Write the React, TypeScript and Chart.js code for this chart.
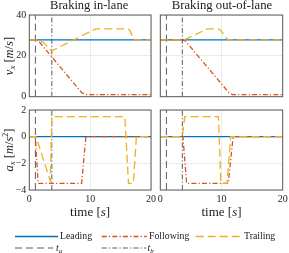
import React, { useEffect, useRef } from "react";
import { Chart, registerables } from "chart.js";
Chart.register(...registerables);

// ---------- data ----------
const timeTicks = [0, 10, 20];
const velTicks = [0, 20, 40];
const accTicks = [-4, -2, 0, 2];

// event times
const inLaneMarkers = [1.0, 3.7]; // t_a, t_b
const outLaneMarkers = [1.0, 3.6];

// Braking in-lane : velocity v_x [m/s]
const inLeadT = [0, 20];
const inLeadV = [27.8, 27.8];
const inFollowT = [0, 1.0, 1.5, 8.6, 9.3, 20];
const inFollowV = [27.8, 27.8, 27.3, 2.0, 1.0, 1.0];
const inTrailT = [0, 1.1, 2.3, 3.6, 3.8, 10.9, 16.2, 16.5, 17.1, 17.6, 20];
const inTrailV = [27.8, 27.8, 26.6, 22.6, 22.6, 33.2, 33.2, 32.7, 28.3, 27.8, 27.8];

// Braking out-of-lane : velocity v_x [m/s]
const outLeadT = [0, 20];
const outLeadV = [27.8, 27.8];
const outFollowT = [0, 3.6, 4.1, 11.2, 11.8, 20];
const outFollowV = [27.8, 27.8, 27.3, 2.0, 1.0, 1.0];
const outTrailT = [0, 3.6, 4.0, 7.7, 9.5, 9.8, 10.9, 11.2, 20];
const outTrailV = [27.8, 27.8, 28.0, 33.2, 33.2, 32.7, 28.3, 27.8, 27.8];

// Braking in-lane : acceleration a_x [m/s^2]
const inLeadA = [0, 0];
const inFollowAT = [0, 1.0, 1.45, 8.6, 9.3, 20];
const inFollowA = [0, 0, -3.5, -3.5, 0, 0];
const inTrailAT = [0, 1.1, 3.45, 3.7, 15.7, 16.3, 17.1, 17.6, 20];
const inTrailA = [0, 0, -3.3, 1.5, 1.5, -3.5, -3.5, 0, 0];

// Braking out-of-lane : acceleration a_x [m/s^2]
const outLeadA = [0, 0];
const outFollowAT = [0, 3.7, 4.3, 11.1, 11.9, 20];
const outFollowA = [0, 0, -3.5, -3.5, 0, 0];
const outTrailAT = [0, 3.6, 4.0, 9.5, 9.9, 10.9, 11.5, 20];
const outTrailA = [0, 0, 1.5, 1.5, -3.5, -3.5, 0, 0];

const panelTitles = ["Braking in-lane", "Braking out-of-lane"];
const legendNames = ["Leading", "Following", "Trailing"];

// ---------- styles ----------
const W = 289;
const H = 253;
const SERIF = "'Liberation Serif', 'Times New Roman', serif";
const C_LEAD = "#0072BD";
const C_FOLLOW = "#D95319";
const C_TRAIL = "#EDB120";
const C_MARK = "#4a4a4a";
const DASH_FOLLOW = [5, 2.2, 1.2, 2.2];
const DASH_TRAIL = [8, 4];
const DASH_TA = [7, 4];
const DASH_TB = [5, 2.2, 1.2, 2.2];

const pts = (t: number[], v: number[]) => t.map((x, i) => ({ x, y: v[i] }));

type Panel = {
  left: number;
  right: number;
  top: number;
  bottom: number;
  yTicks: number[];
  showX: boolean;
  showY: boolean;
  lead: { x: number; y: number }[];
  follow: { x: number; y: number }[];
  trail: { x: number; y: number }[];
  markers: number[];
};

const LX = [29.3, 151];
const RX = [160.3, 282.7];
const TY = [15, 96.7];
const BY = [110, 190];

const panels: Panel[] = [
  {
    left: LX[0], right: LX[1], top: TY[0], bottom: TY[1], yTicks: velTicks, showX: false, showY: true,
    lead: pts(inLeadT, inLeadV), follow: pts(inFollowT, inFollowV), trail: pts(inTrailT, inTrailV),
    markers: inLaneMarkers,
  },
  {
    left: RX[0], right: RX[1], top: TY[0], bottom: TY[1], yTicks: velTicks, showX: false, showY: false,
    lead: pts(outLeadT, outLeadV), follow: pts(outFollowT, outFollowV), trail: pts(outTrailT, outTrailV),
    markers: outLaneMarkers,
  },
  {
    left: LX[0], right: LX[1], top: BY[0], bottom: BY[1], yTicks: accTicks, showX: true, showY: true,
    lead: pts(inLeadT, inLeadA), follow: pts(inFollowAT, inFollowA), trail: pts(inTrailAT, inTrailA),
    markers: inLaneMarkers,
  },
  {
    left: RX[0], right: RX[1], top: BY[0], bottom: BY[1], yTicks: accTicks, showX: true, showY: false,
    lead: pts(outLeadT, outLeadA), follow: pts(outFollowAT, outFollowA), trail: pts(outTrailAT, outTrailA),
    markers: outLaneMarkers,
  },
];

const boxPlugin = {
  id: "axesBox",
  afterDraw(chart: any) {
    const { ctx, chartArea } = chart;
    const { left, top, right, bottom } = chartArea;
    ctx.save();
    ctx.strokeStyle = "#5a5a5a";
    ctx.lineWidth = 1;
    ctx.strokeRect(left, top, right - left, bottom - top);
    ctx.restore();
  },
};

function PanelChart({ p }: { p: Panel }) {
  const ref = useRef<HTMLCanvasElement>(null);
  useEffect(() => {
    const yMin = p.yTicks[0];
    const yMax = p.yTicks[p.yTicks.length - 1];
    const XH = p.showX ? 20 : 0;
    const line = (data: any, color: string, dash: number[], order: number, width = 1.3) => ({
      data,
      borderColor: color,
      backgroundColor: color,
      borderWidth: width,
      borderDash: dash,
      pointRadius: 0,
      tension: 0,
      fill: false,
      order,
    });
    const chart = new Chart(ref.current as HTMLCanvasElement, {
      type: "line",
      data: {
        datasets: [
          line(p.trail, C_TRAIL, DASH_TRAIL, 0),
          line(p.follow, C_FOLLOW, DASH_FOLLOW, 1),
          line(p.lead, C_LEAD, [], 2),
          line(pts([p.markers[0], p.markers[0]], [yMin, yMax]), C_MARK, DASH_TA, 3, 0.9),
          line(pts([p.markers[1], p.markers[1]], [yMin, yMax]), C_MARK, DASH_TB, 4, 0.9),
        ] as any,
      },
      options: {
        responsive: false,
        animation: false,
        devicePixelRatio: 1,
        events: [],
        layout: {
          padding: { left: 0, top: p.top, right: W - p.right, bottom: H - p.bottom - XH },
        },
        plugins: {
          legend: { display: false },
          tooltip: { enabled: false },
          title: { display: false },
        },
        scales: {
          x: {
            type: "linear",
            min: timeTicks[0],
            max: timeTicks[timeTicks.length - 1],
            afterBuildTicks: (s: any) => {
              s.ticks = timeTicks.map((v) => ({ value: v }));
            },
            ticks: {
              display: p.showX,
              font: { family: SERIF, size: 10 },
              color: "#262626",
              padding: 3,
              maxRotation: 0,
              autoSkip: false,
            },
            grid: { color: "#e4e4e4", lineWidth: 0.8, drawTicks: false },
            border: { display: false },
            afterFit: (s: any) => {
              s.height = XH;
              s.paddingLeft = 0;
              s.paddingRight = 0;
            },
          },
          y: {
            type: "linear",
            min: yMin,
            max: yMax,
            afterBuildTicks: (s: any) => {
              s.ticks = p.yTicks.map((v) => ({ value: v }));
            },
            ticks: {
              display: p.showY,
              font: { family: SERIF, size: 10 },
              color: "#262626",
              padding: 3,
              callback: (v: any) => (Number(v) < 0 ? "\u2212" + Math.abs(Number(v)) : String(v)),
            },
            grid: { color: "#e4e4e4", lineWidth: 0.8, drawTicks: false },
            border: { display: false },
            afterFit: (s: any) => {
              s.width = p.left;
              s.paddingTop = 0;
              s.paddingBottom = 0;
            },
          },
        },
      } as any,
      plugins: [boxPlugin],
    });
    return () => chart.destroy();
  }, []);
  return (
    <canvas
      ref={ref}
      width={W}
      height={H}
      style={{ position: "absolute", left: 0, top: 0, width: W, height: H }}
    />
  );
}

const abs = (x: number, top: number, size: number, extra: any = {}) => ({
  position: "absolute" as const,
  left: x,
  top,
  fontSize: size,
  lineHeight: 1,
  whiteSpace: "nowrap" as const,
  transform: "translateX(-50%)",
  ...extra,
});

const subStyle = { fontSize: "70%", verticalAlign: "-0.25em", lineHeight: 0 };
const supStyle = { fontSize: "65%", verticalAlign: "0.55em", lineHeight: 0 };

function LegendLine({ x1, x2, y, color, dash }: { x1: number; x2: number; y: number; color: string; dash: number[] }) {
  return (
    <line
      x1={x1}
      x2={x2}
      y1={y}
      y2={y}
      stroke={color}
      strokeWidth={color === C_MARK ? 0.9 : 1.3}
      strokeDasharray={dash.length ? dash.join(" ") : undefined}
    />
  );
}

export default function App() {
  const lx = (LX[0] + LX[1]) / 2;
  const rx = (RX[0] + RX[1]) / 2;
  return (
    <div
      style={{
        position: "fixed",
        left: 0,
        top: 0,
        width: W,
        height: H,
        background: "#fff",
        fontFamily: SERIF,
        color: "#1a1a1a",
        overflow: "hidden",
      }}
    >
      {panels.map((p, i) => (
        <PanelChart key={i} p={p} />
      ))}
      <div style={abs(lx - 1, -1.5, 12.5)}>{panelTitles[0]}</div>
      <div style={abs(rx + 0.5, -1.5, 12.7)}>{panelTitles[1]}</div>
      <div style={abs(lx, 204.5, 13)}>
        time [<i>s</i>]
      </div>
      <div style={abs(rx, 204.5, 13)}>
        time [<i>s</i>]
      </div>
      <div
        style={{
          position: "absolute",
          left: 9,
          top: (TY[0] + TY[1]) / 2,
          fontSize: 12.5,
          lineHeight: 1,
          whiteSpace: "nowrap",
          transform: "translate(-50%, -50%) rotate(-90deg)",
        }}
      >
        <i>v</i>
        <i style={subStyle}>x</i> [<i>m</i>/<i>s</i>]
      </div>
      <div
        style={{
          position: "absolute",
          left: 9,
          top: (BY[0] + BY[1]) / 2,
          fontSize: 12.5,
          lineHeight: 1,
          whiteSpace: "nowrap",
          transform: "translate(-50%, -50%) rotate(-90deg)",
        }}
      >
        <i>a</i>
        <i style={subStyle}>x</i> [<i>m</i>/<i>s</i>
        <span style={supStyle}>2</span>]
      </div>
      <svg width={W} height={H} style={{ position: "absolute", left: 0, top: 0 }}>
        <LegendLine x1={15} x2={58} y={236.5} color={C_LEAD} dash={[]} />
        <LegendLine x1={101.7} x2={146.7} y={236.5} color={C_FOLLOW} dash={DASH_FOLLOW} />
        <LegendLine x1={195.7} x2={241} y={236.5} color={C_TRAIL} dash={DASH_TRAIL} />
        <LegendLine x1={15} x2={53} y={248} color={C_MARK} dash={DASH_TA} />
        <LegendLine x1={101.7} x2={146} y={248} color={C_MARK} dash={DASH_TB} />
      </svg>
      <div style={abs(60, 231.3, 9.8, { transform: "none" })}>{legendNames[0]}</div>
      <div style={abs(149, 231.3, 9.8, { transform: "none" })}>{legendNames[1]}</div>
      <div style={abs(244, 231.3, 9.8, { transform: "none" })}>{legendNames[2]}</div>
      <div style={abs(56, 242.6, 9.8, { transform: "none" })}>
        <i>t</i>
        <i style={subStyle}>a</i>
      </div>
      <div style={abs(147.5, 242.6, 9.8, { transform: "none" })}>
        <i>t</i>
        <i style={subStyle}>b</i>
      </div>
    </div>
  );
}
